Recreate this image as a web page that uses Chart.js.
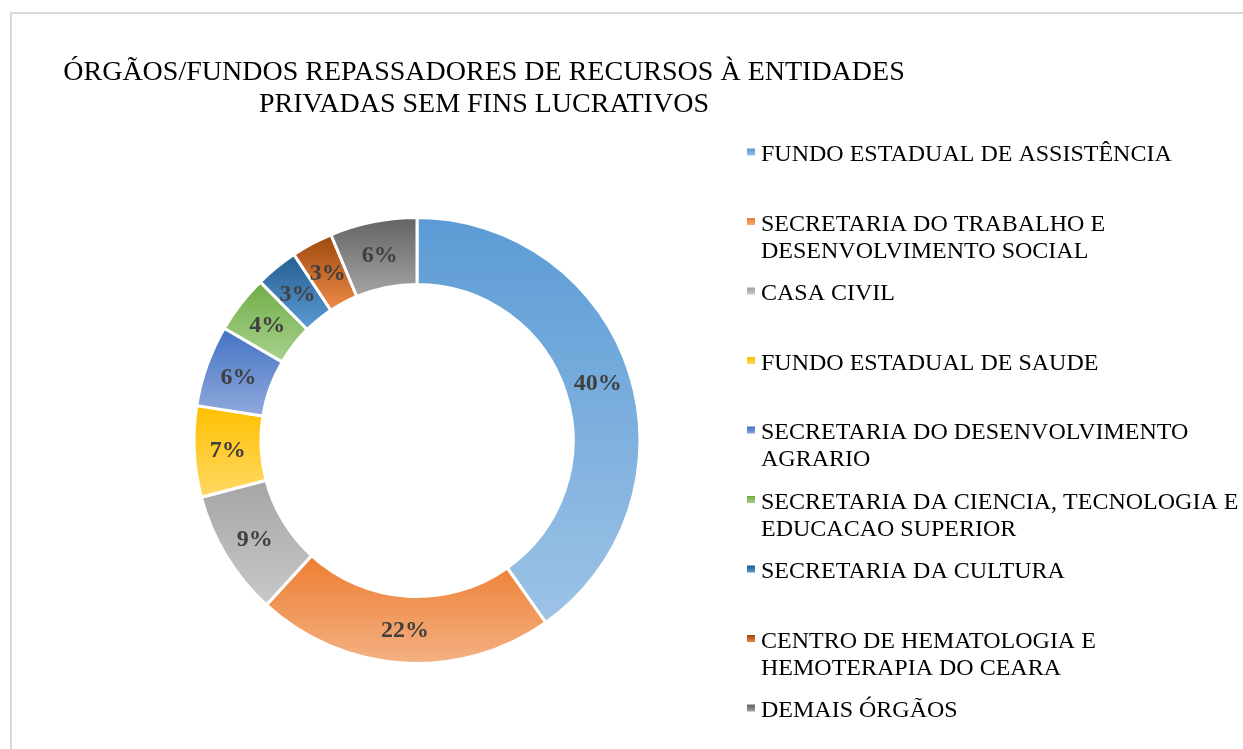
<!DOCTYPE html>
<html>
<head>
<meta charset="utf-8">
<script src="https://cdn.jsdelivr.net/npm/chart.js@4.4.1/dist/chart.umd.min.js"></script>
<style>
  body { margin: 0; background: #fff; overflow: hidden; }
  #frame { position: absolute; left: 10px; top: 12px; width: 1400px; height: 900px;
           border-left: 2px solid #d9d9d9; border-top: 2px solid #d9d9d9; }
  #chart { position: absolute; left: 0; top: 0; }
</style>
</head>
<body>
<div id="frame"></div>
<canvas id="chart" width="1243" height="749"></canvas>
<script>
// chart data
var titleLines = ["ÓRGÃOS/FUNDOS REPASSADORES DE RECURSOS À ENTIDADES", "PRIVADAS SEM FINS LUCRATIVOS"];
var labels = [
  ["FUNDO ESTADUAL DE ASSISTÊNCIA"],
  ["SECRETARIA DO TRABALHO E", "DESENVOLVIMENTO SOCIAL"],
  ["CASA CIVIL"],
  ["FUNDO ESTADUAL DE SAUDE"],
  ["SECRETARIA DO DESENVOLVIMENTO", "AGRARIO"],
  ["SECRETARIA DA CIENCIA, TECNOLOGIA E", "EDUCACAO SUPERIOR"],
  ["SECRETARIA DA CULTURA"],
  ["CENTRO DE HEMATOLOGIA E", "HEMOTERAPIA DO CEARA"],
  ["DEMAIS ÓRGÃOS"]
];
var values = [40.2, 21.6, 9.1, 6.6, 5.9, 4.2, 3.1, 3.0, 6.3];
var topColors = ["#5b9bd5", "#ed7d31", "#a5a5a5", "#ffc000", "#4472c4", "#70ad47", "#255e91", "#9e480e", "#636363"];
var bottomColors = ["#9dc3e6", "#f4b183", "#c9c9c9", "#ffd966", "#8faadc", "#a9d18e", "#5b9bd5", "#ee8b48", "#a5a5a5"];

var total = values.reduce(function(a, b) { return a + b; }, 0);

// vertical gradient per slice, like the spreadsheet fill
function arcGradient(ctx, arc, i) {
  var p = arc.getProps(["x", "y", "startAngle", "endAngle", "innerRadius", "outerRadius"], true);
  var minY = Infinity, maxY = -Infinity;
  for (var k = 0; k <= 40; k++) {
    var t = p.startAngle + (p.endAngle - p.startAngle) * k / 40;
    [p.innerRadius, p.outerRadius].forEach(function(r) {
      var y = p.y + r * Math.sin(t);
      minY = Math.min(minY, y);
      maxY = Math.max(maxY, y);
    });
  }
  var g = ctx.createLinearGradient(0, minY, 0, maxY);
  g.addColorStop(0, topColors[i]);
  g.addColorStop(1, bottomColors[i]);
  return g;
}

var gradientPlugin = {
  id: "sliceGradient",
  beforeDatasetsDraw: function(chart) {
    var meta = chart.getDatasetMeta(0);
    meta.data.forEach(function(arc, i) {
      arc.options = Object.assign({}, arc.options, { backgroundColor: arcGradient(chart.ctx, arc, i) });
    });
  }
};

var textPlugin = {
  id: "sheetText",
  afterDraw: function(chart) {
    var ctx = chart.ctx;
    ctx.save();

    // title
    ctx.fillStyle = "#000";
    ctx.font = '28px "Liberation Serif"';
    ctx.textAlign = "center";
    ctx.textBaseline = "alphabetic";
    ctx.fillText(titleLines[0], 484, 79.5);
    ctx.fillText(titleLines[1], 484, 111.5);

    // percentage labels at slice centres
    var meta = chart.getDatasetMeta(0);
    ctx.font = 'bold 24px "Liberation Serif"';
    ctx.fillStyle = "#404040";
    ctx.textBaseline = "middle";
    meta.data.forEach(function(arc, i) {
      var pos = arc.tooltipPosition(true);
      ctx.fillText(Math.round(values[i] / total * 100) + "%", pos.x, pos.y + 1);
    });

    // legend
    ctx.font = '24px "Liberation Serif"';
    ctx.textAlign = "left";
    ctx.textBaseline = "alphabetic";
    labels.forEach(function(lines, i) {
      var base = 161 + i * 69.5;
      var g = ctx.createLinearGradient(0, base - 12, 0, base - 5);
      g.addColorStop(0, topColors[i]);
      g.addColorStop(1, bottomColors[i]);
      ctx.fillStyle = g;
      ctx.fillRect(747, base - 12.5, 8, 7);
      ctx.fillStyle = "#000";
      lines.forEach(function(line, k) {
        ctx.fillText(line, 761, base + k * 27);
      });
    });
    ctx.restore();
  }
};

new Chart(document.getElementById("chart"), {
  type: "doughnut",
  data: {
    labels: labels,
    datasets: [{
      data: values,
      backgroundColor: topColors,
      borderColor: "#ffffff",
      borderWidth: 3
    }]
  },
  options: {
    responsive: false,
    animation: false,
    cutout: "70%",
    layout: { padding: { left: 192.5, top: 216, right: 601.5, bottom: 84 } },
    plugins: {
      legend: { display: false },
      title: { display: false },
      tooltip: { enabled: false }
    }
  },
  plugins: [gradientPlugin, textPlugin]
});
</script>
</body>
</html>
